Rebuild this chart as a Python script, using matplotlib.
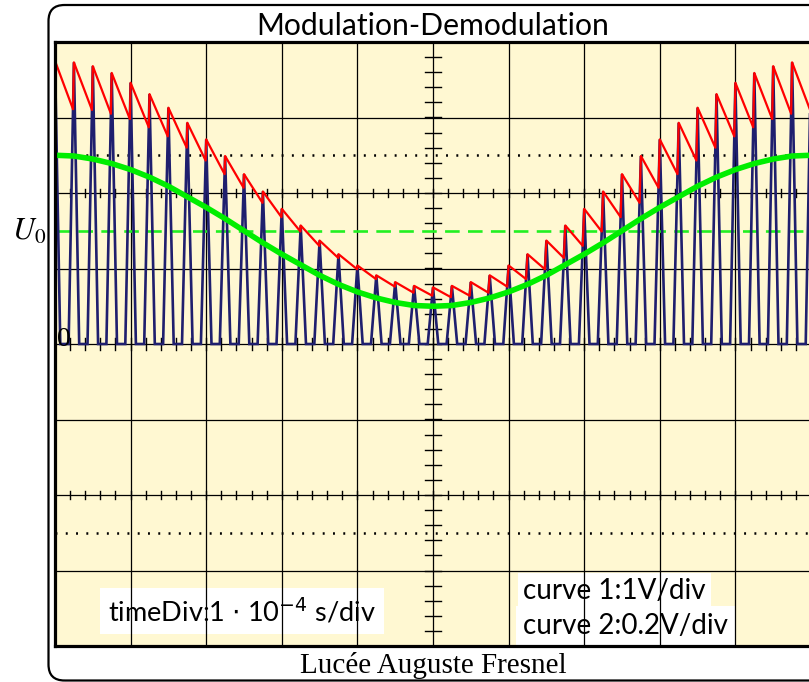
import numpy as np
import matplotlib
matplotlib.use("Agg")
import matplotlib.pyplot as plt
from matplotlib.patches import FancyBboxPatch
from matplotlib.transforms import IdentityTransform

plt.rcParams['lines.scale_dashes'] = False

# ---------------- data (in screen divisions) ----------------
title = "Modulation-Demodulation"
footer = "Lucée Auguste Fresnel"
time_label = r"timeDiv:1 $\cdot$ 10$^{-4}$ s/div"
curve_labels = ["curve 1:1V/div", "curve 2:0.2V/div"]
u0_label = r"$U_0$"
u0_level = 1.5
dotted_levels = [2.5, -2.5]

carrier_times = [0.0, 0.25, 0.5, 0.75, 1.0, 1.25, 1.5, 1.75, 2.0, 2.25,
                 2.5, 2.75, 3.0, 3.25, 3.5, 3.75, 4.0, 4.25, 4.5, 4.75,
                 5.0, 5.25, 5.5, 5.75, 6.0, 6.25, 6.5, 6.75, 7.0, 7.25,
                 7.5, 7.75, 8.0, 8.25, 8.5, 8.75, 9.0, 9.25, 9.5, 9.75, 10.0]

# peak heights of the rectified modulated carrier (curve 1)
peak_heights = [3.75, 3.73, 3.68, 3.59, 3.46, 3.31, 3.13, 2.93, 2.71, 2.49,
                2.25, 2.02, 1.79, 1.57, 1.37, 1.19, 1.04, 0.91, 0.82, 0.77,
                0.75, 0.77, 0.82, 0.91, 1.04, 1.19, 1.37, 1.57, 1.79, 2.02,
                2.25, 2.49, 2.71, 2.93, 3.13, 3.31, 3.46, 3.59, 3.68, 3.73, 3.75]

# lowest value of the envelope-detector output before each next peak
detector_troughs = [3.11, 3.10, 3.05, 2.98, 2.87, 2.75, 2.60, 2.43, 2.25, 2.07,
                    1.87, 1.68, 1.49, 1.30, 1.14, 0.99, 0.86, 0.76, 0.68, 0.64,
                    0.62, 0.64, 0.68, 0.76, 0.86, 0.99, 1.14, 1.30, 1.49, 1.68,
                    1.87, 2.07, 2.25, 2.43, 2.60, 2.75, 2.87, 2.98, 3.05, 3.10]

# demodulated signal (curve 2)
demod_values = [2.50, 2.49, 2.45, 2.39, 2.31, 2.21, 2.09, 1.95, 1.81, 1.66,
                1.50, 1.34, 1.19, 1.05, 0.91, 0.79, 0.69, 0.61, 0.55, 0.51,
                0.50, 0.51, 0.55, 0.61, 0.69, 0.79, 0.91, 1.05, 1.19, 1.34,
                1.50, 1.66, 1.81, 1.95, 2.09, 2.21, 2.31, 2.39, 2.45, 2.49, 2.50]

# ---------------- figure ----------------
W, H = 809, 682
fig = plt.figure(figsize=(W / 100, H / 100), dpi=100)
fig.patch.set_facecolor("white")

# outer rounded frame (pixel coordinates)
frame = FancyBboxPatch((48.5, 1.5), 800, 675.5,
                       boxstyle="round,pad=0,rounding_size=16",
                       transform=IdentityTransform(), fill=False,
                       edgecolor="black", linewidth=1.6)
fig.add_artist(frame)

ax = fig.add_axes([55 / W, 36 / H, 756 / W, 604 / H])
ax.set_xlim(0, 10)
ax.set_ylim(-4, 4)
ax.set_facecolor("#fff8d2")
ax.set_xticks([])
ax.set_yticks([])
for s in ax.spines.values():
    s.set_linewidth(2.3)
    s.set_zorder(10)

# grid
for gx in range(1, 10):
    ax.axvline(gx, color="black", lw=0.9, zorder=2)
for gy in range(-3, 4):
    ax.axhline(gy, color="black", lw=0.9, zorder=2)

# ticks on the central vertical axis
for ty in np.arange(-4, 4.001, 0.2):
    ax.plot([4.9, 5.1], [ty, ty], color="black", lw=1.0, zorder=2)
# ticks on horizontal axes
for tx in np.arange(0, 10.001, 0.2):
    ax.plot([tx, tx], [-0.086, 0.086], color="black", lw=1.0, zorder=2)
    for yl in (2, -2):
        ax.plot([tx, tx], [yl - 0.053, yl + 0.053], color="black", lw=1.0, zorder=2)

# dotted levels
for yl in dotted_levels:
    ax.axhline(yl, color="black", lw=1.8, dashes=[1.4, 6.0], zorder=2)

# U0 dashed level
ax.axhline(u0_level, color="#22f022", lw=1.9, dashes=[10.5, 6.0], zorder=3)

# curve 1 : rectified carrier pulses
hw = 0.07
bx, by = [], []
for t, h in zip(carrier_times, peak_heights):
    bx += [t - hw, t, t + hw]
    by += [0.0, h, 0.0]
ax.plot(bx, by, color="#1f1f6e", lw=1.9, zorder=4, solid_joinstyle="miter")

# envelope detector output
rx, ry = [], []
for k in range(len(carrier_times) - 1):
    rx.append(carrier_times[k]); ry.append(peak_heights[k])
    r = detector_troughs[k]
    h_next = peak_heights[k + 1]
    rx.append(carrier_times[k + 1] - hw * (1 - r / h_next)); ry.append(r)
rx.append(carrier_times[-1]); ry.append(peak_heights[-1])
ax.plot(rx, ry, color="#ff0000", lw=1.6, zorder=5)

# curve 2 : demodulated signal
ax.plot(carrier_times, demod_values, color="#00ee00", lw=4.0, zorder=6,
        solid_capstyle="butt")

# labels inside the screen
ax.text(0.02, -0.03, "0", family="Liberation Serif", fontsize=20,
        ha="left", va="baseline", zorder=7)

ax.text(0.7, -3.54, time_label, family="Lato", fontsize=19.5, ha="left",
        va="center", zorder=1.5,
        bbox=dict(boxstyle="square,pad=0.3", facecolor="white", edgecolor="none"))
ax.text(6.19, -3.27, curve_labels[0], family="Lato", fontsize=20, ha="left",
        va="center", zorder=1.5,
        bbox=dict(boxstyle="square,pad=0.18", facecolor="white", edgecolor="none"))
ax.text(6.19, -3.74, curve_labels[1], family="Lato", fontsize=20, ha="left",
        va="center", zorder=1.5,
        bbox=dict(boxstyle="square,pad=0.25", facecolor="white", edgecolor="none"))

# outside texts
fig.text(433 / W, 1 - 35 / H, title, family="Lato", fontsize=21.7,
         ha="center", va="baseline")
fig.text(433 / W, 1 - 673 / H, footer, family="Liberation Serif", fontsize=21,
         ha="center", va="baseline")
fig.text(46 / W, 1 - 231 / H, u0_label, fontsize=22, math_fontfamily="stix",
         ha="right", va="center")

fig.savefig("out.png", dpi=100)
